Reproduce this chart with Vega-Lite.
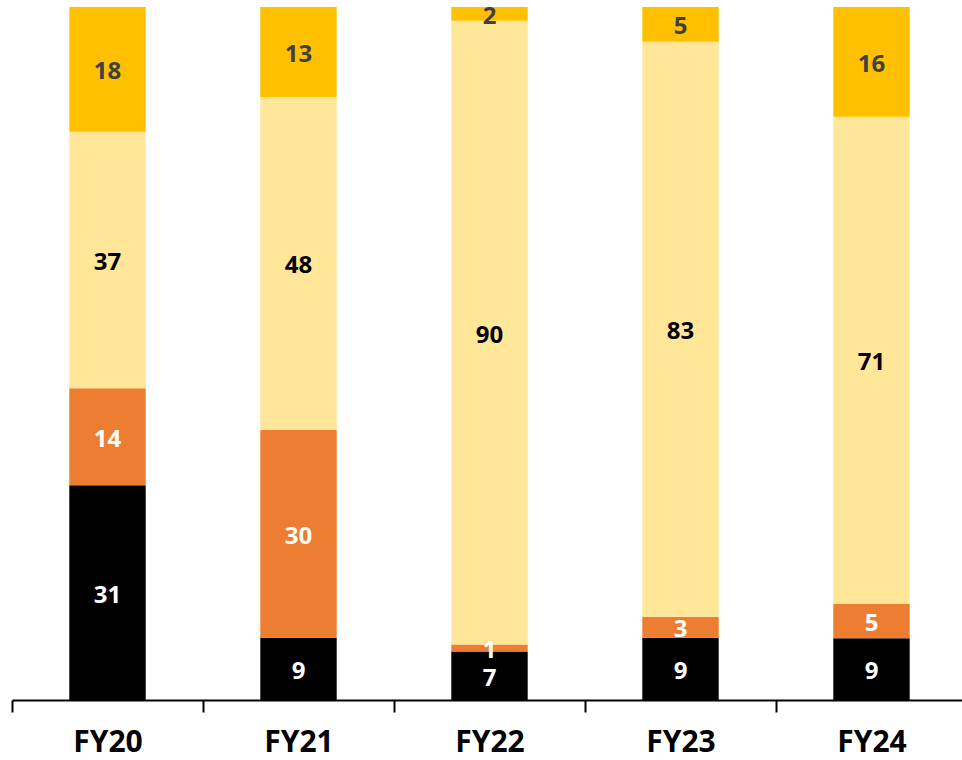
{
  "$schema": "https://vega.github.io/schema/vega-lite/v6.json",
  "autosize": "none",
  "width": 955,
  "height": 693,
  "padding": {"left": 12, "top": 7, "right": 0, "bottom": 60},
  "background": "white",
  "config": {
    "view": {"stroke": null},
    "font": "Open Sans"
  },
  "data": {
    "values": [
      {"year": "FY20", "segment": "s1", "k": 1, "share": 31},
      {"year": "FY20", "segment": "s2", "k": 2, "share": 14},
      {"year": "FY20", "segment": "s3", "k": 3, "share": 37},
      {"year": "FY20", "segment": "s4", "k": 4, "share": 18},
      {"year": "FY21", "segment": "s1", "k": 1, "share": 9},
      {"year": "FY21", "segment": "s2", "k": 2, "share": 30},
      {"year": "FY21", "segment": "s3", "k": 3, "share": 48},
      {"year": "FY21", "segment": "s4", "k": 4, "share": 13},
      {"year": "FY22", "segment": "s1", "k": 1, "share": 7},
      {"year": "FY22", "segment": "s2", "k": 2, "share": 1},
      {"year": "FY22", "segment": "s3", "k": 3, "share": 90},
      {"year": "FY22", "segment": "s4", "k": 4, "share": 2},
      {"year": "FY23", "segment": "s1", "k": 1, "share": 9},
      {"year": "FY23", "segment": "s2", "k": 2, "share": 3},
      {"year": "FY23", "segment": "s3", "k": 3, "share": 83},
      {"year": "FY23", "segment": "s4", "k": 4, "share": 5},
      {"year": "FY24", "segment": "s1", "k": 1, "share": 9},
      {"year": "FY24", "segment": "s2", "k": 2, "share": 5},
      {"year": "FY24", "segment": "s3", "k": 3, "share": 71},
      {"year": "FY24", "segment": "s4", "k": 4, "share": 16}
    ]
  },
  "encoding": {
    "x": {
      "field": "year",
      "type": "nominal",
      "scale": {"paddingInner": 0, "paddingOuter": 0},
      "axis": {
        "title": null,
        "labelAngle": 0,
        "labelFont": "Open Sans",
        "labelFontWeight": "bold",
        "labelFontSize": 30,
        "labelColor": "#000000",
        "labelPadding": 15,
        "domainColor": "#000000",
        "domainWidth": 2,
        "tickColor": "#000000",
        "tickWidth": 2,
        "tickSize": 12,
        "tickBand": "extent"
      }
    },
    "y": {
      "field": "share",
      "type": "quantitative",
      "stack": "normalize",
      "axis": null
    },
    "order": {"field": "k", "type": "quantitative"}
  },
  "layer": [
    {
      "mark": {"type": "bar", "width": {"band": 0.4}},
      "encoding": {
        "color": {
          "field": "segment",
          "type": "nominal",
          "scale": {
            "domain": ["s1", "s2", "s3", "s4"],
            "range": ["#000000", "#ED7D31", "#FFE699", "#FFC000"]
          },
          "legend": null
        }
      }
    },
    {
      "mark": {"type": "text", "fontWeight": "bold", "fontSize": 24, "font": "Open Sans", "baseline": "middle", "dy": 3},
      "encoding": {
        "y": {
          "field": "share",
          "type": "quantitative",
          "stack": "normalize",
          "bandPosition": 0.5
        },
        "text": {"field": "share", "type": "quantitative"},
        "color": {
          "field": "segment",
          "type": "nominal",
          "scale": {
            "domain": ["s1", "s2", "s3", "s4"],
            "range": ["#FFFFFF", "#FFFFFF", "#000000", "#404040"]
          },
          "legend": null
        }
      }
    }
  ],
  "resolve": {"scale": {"color": "independent"}}
}
